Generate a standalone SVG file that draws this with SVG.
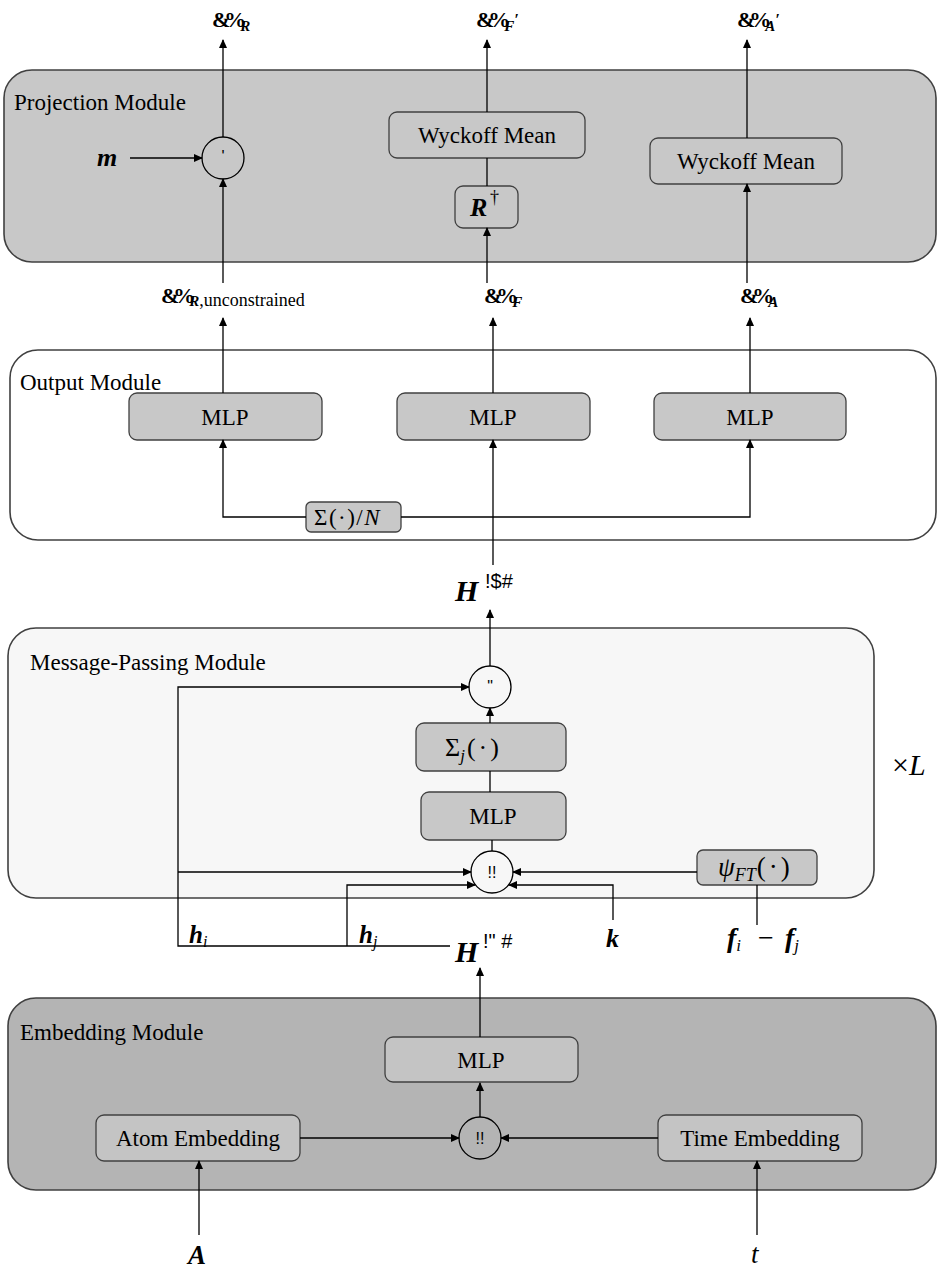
<svg xmlns="http://www.w3.org/2000/svg" width="938" height="1270" viewBox="0 0 938 1270">
<style>
.mod{stroke:#404040;stroke-width:1.6}
.box{fill:#c8c8c8;stroke:#404040;stroke-width:1.3}
.ebox{fill:#c4c4c4;stroke:#404040;stroke-width:1.3}
.c{fill:none;stroke:#000;stroke-width:1.3}
.ln{fill:none;stroke:#000;stroke-width:1.3}
.ar{fill:none;stroke:#000;stroke-width:1.3;marker-end:url(#ah)}
.t{font-family:"Liberation Serif",serif;fill:#000}
.tc{font-family:"Liberation Serif",serif;font-size:23px;fill:#000;text-anchor:middle}
.ml{font-family:"Liberation Serif",serif;font-size:23px;fill:#000}
.mb{font-family:"Liberation Serif",serif;font-weight:bold;font-style:italic;fill:#000}
.mi{font-family:"Liberation Serif",serif;font-style:italic;fill:#000}
.g{font-family:"Liberation Serif",serif;font-weight:bold;fill:#000;letter-spacing:-6px}
.s{font-family:"Liberation Sans",sans-serif;fill:#000}
</style>
<defs>
<marker id="ah" markerWidth="9" markerHeight="8" refX="8" refY="4" orient="auto" markerUnits="userSpaceOnUse">
<path d="M0,0 L9,4 L0,8 Z" fill="#000"/>
</marker>
</defs>

<g id="projection-module">
<rect class="mod" x="4" y="70" width="932" height="192" rx="28" fill="#c8c8c8"/>
<text class="ml" x="14" y="110">Projection Module</text>
</g>
<g id="proj-circle">
<circle class="c" cx="223" cy="158" r="21"/>
<text class="s" x="223" y="162" font-size="16" text-anchor="middle">'</text>
</g>
<g id="wyckoff1">
<rect class="box" x="389" y="112" width="196" height="46" rx="8"/>
<text class="tc" x="487" y="143">Wyckoff Mean</text>
</g>
<g id="rdagger">
<rect class="box" x="455" y="186" width="63" height="42" rx="8"/>
<text class="mb" x="470" y="216" font-size="26">R</text><text class="t" x="490" y="203" font-size="18">†</text>
</g>
<g id="wyckoff2">
<rect class="box" x="650" y="138" width="192" height="46" rx="8"/>
<text class="tc" x="746" y="169">Wyckoff Mean</text>
</g>

<g id="output-module">
<rect class="mod" x="10" y="350" width="926" height="190" rx="28" fill="#ffffff"/>
<text class="ml" x="20" y="390">Output Module</text>
</g>
<g id="mlp-out1"><rect class="box" x="129" y="393" width="193" height="47" rx="8"/><text class="tc" x="225" y="425">MLP</text></g>
<g id="mlp-out2"><rect class="box" x="397" y="393" width="193" height="47" rx="8"/><text class="tc" x="493" y="425">MLP</text></g>
<g id="mlp-out3"><rect class="box" x="654" y="393" width="192" height="47" rx="8"/><text class="tc" x="750" y="425">MLP</text></g>
<g id="sumN">
<rect class="box" x="306" y="502" width="95" height="30" rx="5"/>
<text class="t" x="314" y="525" font-size="23" letter-spacing="1.5">Σ(·)/<tspan font-style="italic">N</tspan></text>
</g>

<g id="mp-module">
<rect class="mod" x="8" y="628" width="866" height="270" rx="28" fill="#f7f7f7"/>
<text class="ml" x="30" y="670">Message-Passing Module</text>
</g>
<g id="mp-circle1">
<circle class="c" cx="490" cy="687" r="21"/>
<text class="s" x="490" y="692" font-size="16" text-anchor="middle">"</text>
</g>
<g id="sumj">
<rect class="box" x="416" y="723" width="150" height="48" rx="8"/>
<text class="t" x="445" y="756" font-size="26">Σ<tspan font-style="italic" font-size="17" dy="5">j</tspan><tspan dy="-5" dx="2" letter-spacing="3">(·)</tspan></text>
</g>
<g id="mlp-mp"><rect class="box" x="421" y="792" width="145" height="48" rx="8"/><text class="tc" x="493" y="824">MLP</text></g>
<g id="mp-circle2">
<circle class="c" cx="492" cy="872" r="21"/>
<text class="s" x="492" y="878" font-size="16" text-anchor="middle">!!</text>
</g>
<g id="psi">
<rect class="box" x="697" y="850" width="120" height="35" rx="6"/>
<text class="mi" x="718" y="876" font-size="27">ψ<tspan font-size="18" dy="5">FT</tspan><tspan font-style="normal" dy="-5" dx="1" letter-spacing="3">(·)</tspan></text>
</g>
<g id="times-L"><text class="t" x="892" y="775" font-size="30">×<tspan font-style="italic">L</tspan></text></g>

<g id="embedding-module">
<rect class="mod" x="8" y="998" width="928" height="192" rx="28" fill="#b4b4b4"/>
<text class="ml" x="20" y="1040">Embedding Module</text>
</g>
<g id="mlp-emb"><rect class="ebox" x="385" y="1037" width="193" height="45" rx="8"/><text class="tc" x="481" y="1068">MLP</text></g>
<g id="emb-circle">
<circle class="c" cx="480" cy="1138" r="21"/>
<text class="s" x="480" y="1144" font-size="16" text-anchor="middle">!!</text>
</g>
<g id="atom-emb"><rect class="ebox" x="96" y="1115" width="204" height="46" rx="8"/><text class="tc" x="198" y="1146">Atom Embedding</text></g>
<g id="time-emb"><rect class="ebox" x="658" y="1115" width="204" height="46" rx="8"/><text class="tc" x="760" y="1146">Time Embedding</text></g>

<g id="labels">
<text class="g" x="212" y="27" font-size="22">&amp;%<tspan class="mb" font-size="15" dy="4" letter-spacing="0">R</tspan></text>
<text class="g" x="476" y="27" font-size="22">&amp;%<tspan class="mb" font-size="15" dy="4" letter-spacing="0">F</tspan><tspan class="mi" font-size="16" dy="-6" letter-spacing="0">′</tspan></text>
<text class="g" x="737" y="27" font-size="22">&amp;%<tspan class="mb" font-size="15" dy="4" letter-spacing="0">A</tspan><tspan class="mi" font-size="16" dy="-6" letter-spacing="0">′</tspan></text>
<text class="g" x="161" y="303" font-size="22">&amp;%<tspan class="mb" font-size="15" dy="3" letter-spacing="0">R</tspan><tspan font-weight="normal" font-size="18" letter-spacing="0">,unconstrained</tspan></text>
<text class="g" x="484" y="303" font-size="22">&amp;%<tspan class="mb" font-size="15" dy="4" letter-spacing="0">F</tspan></text>
<text class="g" x="740" y="303" font-size="22">&amp;%<tspan class="mb" font-size="15" dy="4" letter-spacing="0">A</tspan></text>
<text class="mb" x="97" y="166" font-size="26">m</text>
<text class="mb" x="455" y="601" font-size="30">H</text><text class="s" x="485" y="588" font-size="20">!$#</text>
<text class="mb" x="189" y="943" font-size="25">h<tspan class="mi" font-weight="normal" font-size="16" dy="4">i</tspan></text>
<text class="mb" x="359" y="943" font-size="25">h<tspan class="mi" font-weight="normal" font-size="16" dy="4">j</tspan></text>
<text class="mb" x="455" y="962" font-size="30">H</text><text class="s" x="483" y="948" font-size="20">!" #</text>
<text class="mb" x="606" y="947" font-size="26">k</text>
<text class="mb" x="727" y="947" font-size="28">f<tspan class="mi" font-weight="normal" font-size="17" dy="4">i</tspan></text>
<text class="t" x="758" y="947" font-size="28">−</text>
<text class="mb" x="785" y="947" font-size="28">f<tspan class="mi" font-weight="normal" font-size="17" dy="4">j</tspan></text>
<text class="mb" x="188" y="1264" font-size="27">A</text>
<text class="mi" x="751" y="1263" font-size="27">t</text>
</g>

<g id="connectors">
<line class="ar" x1="130" y1="158" x2="202" y2="158"/>
<line class="ar" x1="223" y1="137" x2="223" y2="40"/>
<line class="ar" x1="223" y1="283" x2="223" y2="179"/>
<line class="ar" x1="487" y1="112" x2="487" y2="40"/>
<line class="ln" x1="487" y1="186" x2="487" y2="158"/>
<line class="ar" x1="487" y1="283" x2="487" y2="228"/>
<line class="ar" x1="747" y1="138" x2="747" y2="40"/>
<line class="ar" x1="747" y1="283" x2="747" y2="184"/>
<line class="ar" x1="223" y1="393" x2="223" y2="318"/>
<line class="ar" x1="493" y1="393" x2="493" y2="318"/>
<line class="ar" x1="750" y1="393" x2="750" y2="318"/>
<polyline class="ar" points="306,517 223,517 223,440"/>
<polyline class="ar" points="401,517 750,517 750,440"/>
<line class="ar" x1="493" y1="565" x2="493" y2="440"/>
<line class="ar" x1="490" y1="666" x2="490" y2="610"/>
<line class="ar" x1="490" y1="723" x2="490" y2="708"/>
<line class="ln" x1="490" y1="792" x2="490" y2="771"/>
<line class="ln" x1="492" y1="851" x2="492" y2="840"/>
<polyline class="ar" points="450,946 178,946 178,687 469,687"/>
<line class="ar" x1="178" y1="872" x2="471" y2="872"/>
<polyline class="ar" points="347,946 347,885 475,885"/>
<polyline class="ar" points="613,920 613,885 509,885"/>
<line class="ar" x1="697" y1="872" x2="513" y2="872"/>
<line class="ln" x1="757" y1="885" x2="757" y2="925"/>
<line class="ar" x1="480" y1="1037" x2="480" y2="968"/>
<line class="ar" x1="480" y1="1117" x2="480" y2="1083"/>
<line class="ar" x1="300" y1="1138" x2="459" y2="1138"/>
<line class="ar" x1="658" y1="1138" x2="501" y2="1138"/>
<line class="ar" x1="199" y1="1235" x2="199" y2="1161"/>
<line class="ar" x1="757" y1="1235" x2="757" y2="1161"/>
</g>
</svg>
